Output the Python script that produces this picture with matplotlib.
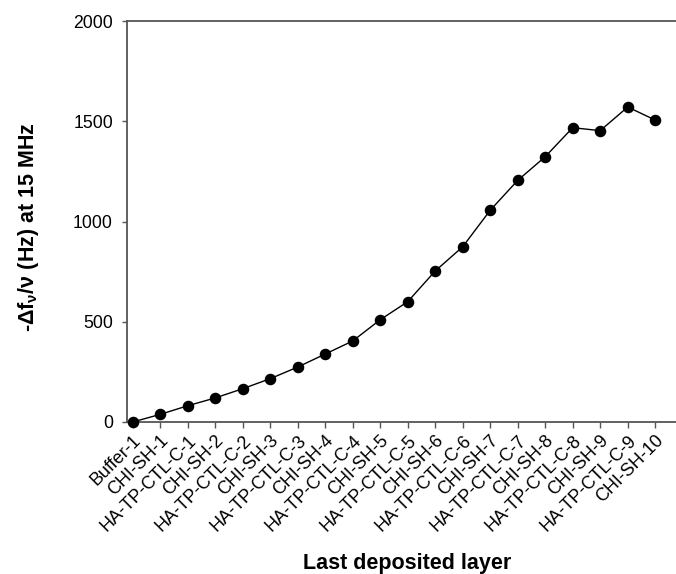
import matplotlib
matplotlib.use('Agg')
import matplotlib.pyplot as plt
import numpy as np

# Etichette degli strati depositati
layers = ['Buffer-1', 'CHI-SH-1', 'HA-TP-CTL-C-1', 'CHI-SH-2', 'HA-TP-CTL-C-2',
          'CHI-SH-3', 'HA-TP-CTL-C-3', 'CHI-SH-4', 'HA-TP-CTL-C-4', 'CHI-SH-5',
          'HA-TP-CTL-C-5', 'CHI-SH-6', 'HA-TP-CTL-C-6', 'CHI-SH-7', 'HA-TP-CTL-C-7',
          'CHI-SH-8', 'HA-TP-CTL-C-8', 'CHI-SH-9', 'HA-TP-CTL-C-9', 'CHI-SH-10']

# -Δf/ν (Hz) a 15 MHz
freq_shift = [0, 38, 81, 120, 166, 216, 274, 339, 404, 510,
              600, 753, 874, 1056, 1205, 1323, 1468, 1453, 1571, 1506]

y_ticks = [0, 500, 1000, 1500, 2000]

plt.rcParams['font.family'] = ['Liberation Sans', 'DejaVu Sans']
plt.rcParams['mathtext.fontset'] = 'custom'
plt.rcParams['mathtext.rm'] = 'Liberation Sans:bold'
plt.rcParams['mathtext.it'] = 'Liberation Sans:bold'
plt.rcParams['mathtext.bf'] = 'Liberation Sans:bold'

W, H = 676, 574
fig = plt.figure(figsize=(W / 100, H / 100), dpi=100)
# posizione assi in pixel (il riquadro esce a destra come nell'originale)
left, right = 127, 687
bottom, top = 422, 21
ax_w = right - left
ax_h = bottom - top
ax = fig.add_axes([left / W, 1 - bottom / H, ax_w / W, ax_h / H])

x = np.arange(len(layers))
ax.plot(x, freq_shift, color='black', linewidth=1.0, marker='o', markersize=7.3,
        markerfacecolor='black', markeredgecolor='black', zorder=3, clip_on=False)

# scala x: 27.5 px per strato, primo punto a 132.7 px
px = 27.5
x0 = 132.7
ax.set_xlim((left - x0) / px, (right - x0) / px)
ax.set_ylim(0, 2000)
ax.set_yticks(y_ticks)
ax.set_xticks(x)
ax.set_xticklabels(layers, rotation=45, ha='right', va='top', rotation_mode='anchor')

spine_col = '#555555'
for s in ['left', 'top', 'bottom']:
    ax.spines[s].set_color(spine_col)
    ax.spines[s].set_linewidth(1.3)
ax.spines['right'].set_visible(False)

ax.tick_params(axis='both', direction='out', width=1.0, color=spine_col, labelcolor='black')
ax.tick_params(axis='x', length=4, pad=3.3, labelsize=13)
ax.tick_params(axis='y', length=3.6, pad=6.5, labelsize=12.7)

ax.set_ylabel('-Δf$_{\\mathrm{ν}}$/ν (Hz) at 15 MHz', fontsize=15.5, fontweight='bold')
ax.yaxis.set_label_coords((41 - left) / ax_w, (bottom - 227) / ax_h)
ax.set_xlabel('Last deposited layer', fontsize=15.5, fontweight='bold')
ax.xaxis.set_label_coords((407 - left) / ax_w, (bottom - 553) / ax_h)

fig.savefig('out.png', dpi=100)
